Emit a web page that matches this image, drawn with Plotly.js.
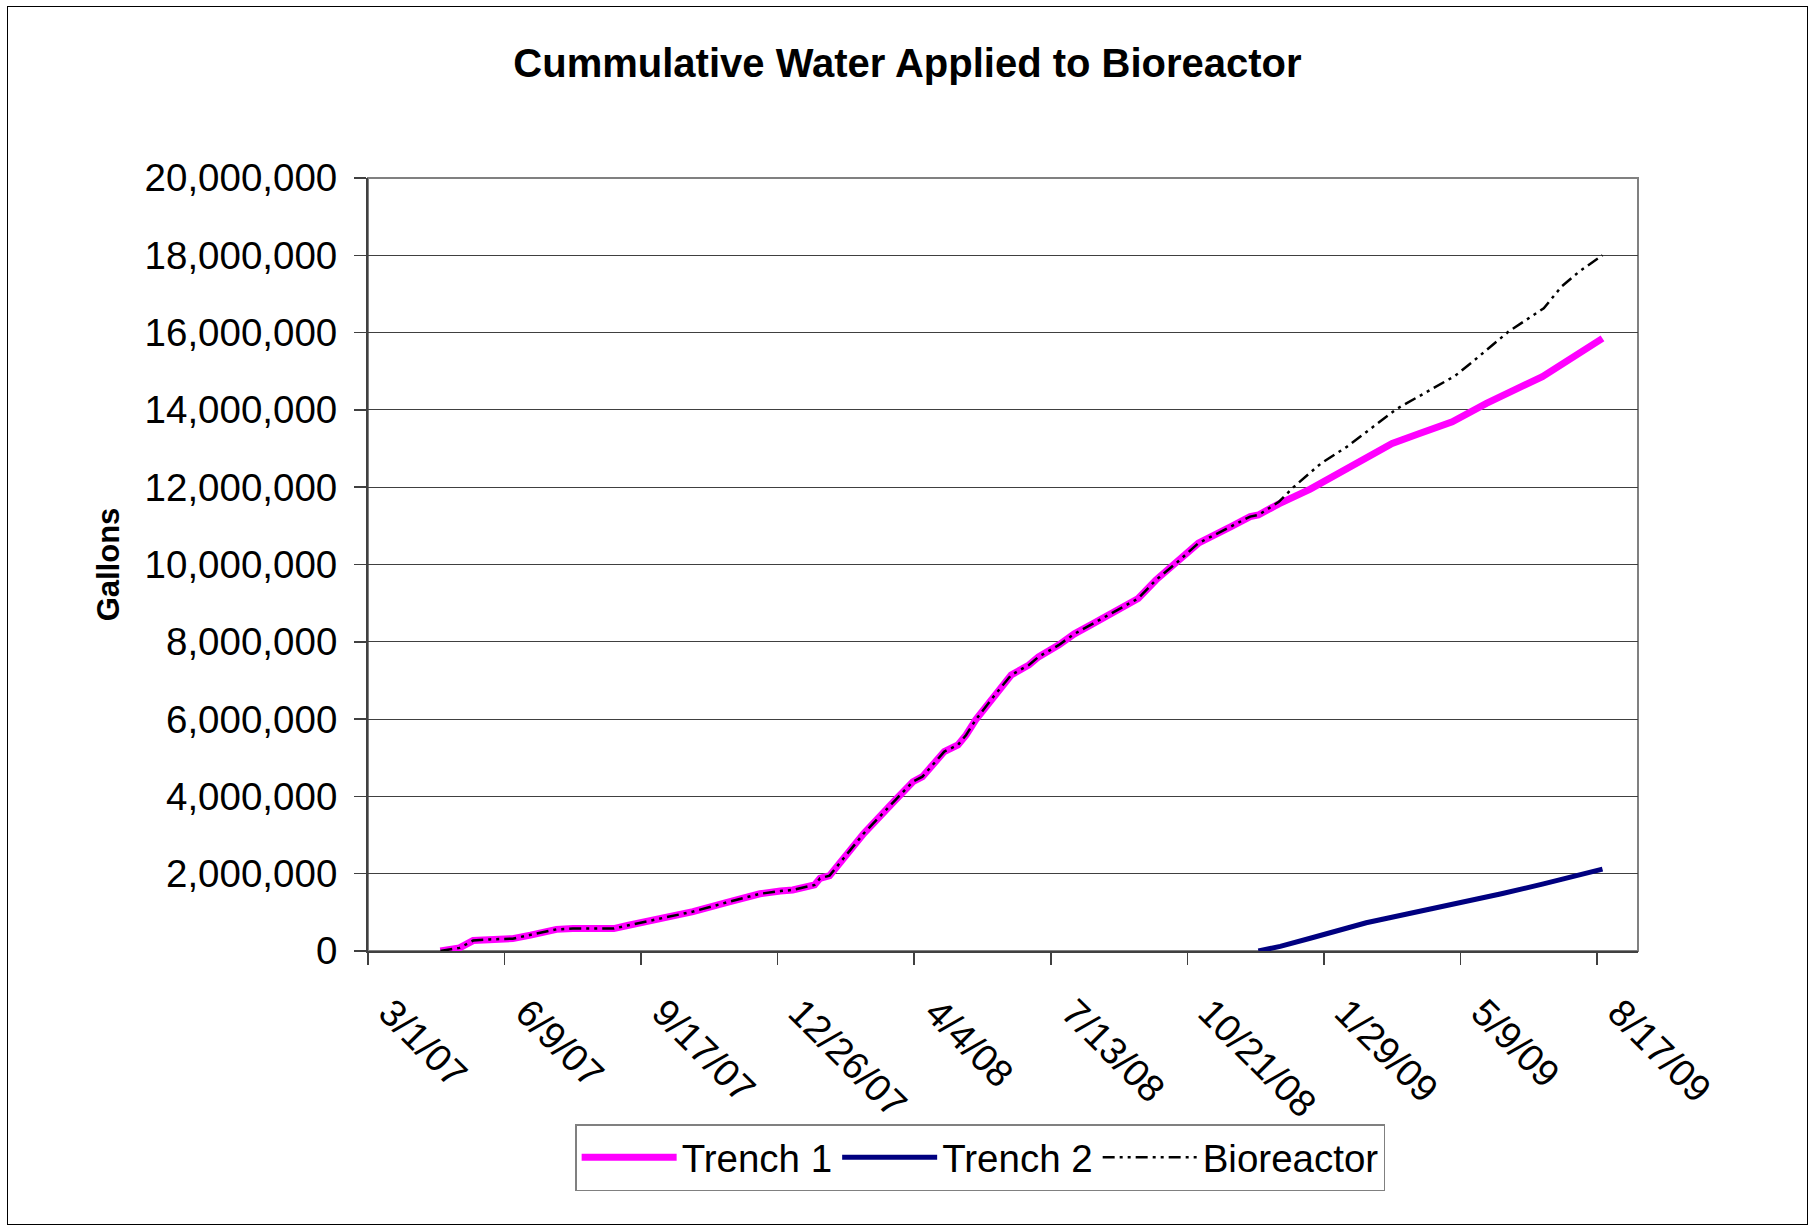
<!DOCTYPE html>
<html>
<head>
<meta charset="utf-8">
<script src="https://cdn.plot.ly/plotly-3.0.1.min.js"></script>
<style>
  html, body { margin: 0; padding: 0; background: #fff; }
  #wrap { position: relative; width: 1815px; height: 1227px; }
  #chart { width: 1815px; height: 1227px; }
  #frame { position: absolute; left: 7px; top: 6px; width: 1799px; height: 1217px;
           border: 1px solid #000; pointer-events: none; }
</style>
</head>
<body>
<div id="wrap">
  <div id="chart"></div>
  <div id="frame"></div>
</div>
<script>
// ---- Data ----
const trench1Dates = [
  "2007-04-23","2007-05-07","2007-05-17","2007-05-29","2007-06-15","2007-06-28",
  "2007-07-17","2007-07-29","2007-08-28","2007-09-07","2007-10-01","2007-10-25",
  "2007-11-19","2007-12-13","2007-12-28","2008-01-06","2008-01-22","2008-01-26",
  "2008-02-02","2008-02-11","2008-02-27","2008-03-21","2008-04-03","2008-04-10",
  "2008-04-26","2008-05-06","2008-05-12","2008-05-19","2008-06-01","2008-06-14",
  "2008-06-27","2008-07-04","2008-07-19","2008-07-30","2008-08-12","2008-08-26",
  "2008-09-07","2008-09-15","2008-09-28","2008-10-14","2008-10-29","2008-11-22",
  "2008-12-06","2008-12-12","2008-12-27","2009-01-19","2009-02-18","2009-03-20",
  "2009-04-09","2009-05-03","2009-05-28","2009-06-13","2009-07-08","2009-08-21"
];
const trench1Gallons = [
  0, 80000, 270000, 300000, 320000, 410000,
  560000, 580000, 580000, 660000, 840000, 1020000,
  1260000, 1480000, 1550000, 1580000, 1710000, 1880000,
  1950000, 2350000, 3040000, 3900000, 4380000, 4510000,
  5160000, 5330000, 5590000, 5980000, 6580000, 7140000,
  7400000, 7610000, 7920000, 8200000, 8450000, 8730000,
  8950000, 9120000, 9600000, 10070000, 10550000, 10980000,
  11240000, 11280000, 11570000, 11950000, 12540000, 13130000,
  13390000, 13690000, 14170000, 14450000, 14860000, 15850000
];

const trench2Dates = [
  "2008-12-12","2008-12-28","2009-01-19","2009-03-01","2009-03-30",
  "2009-05-06","2009-06-08","2009-07-08","2009-08-21"
];
const trench2Gallons = [
  0, 120000, 330000, 730000, 950000,
  1220000, 1480000, 1730000, 2120000
];

const bioreactorDates = [
  "2007-04-23","2007-05-07","2007-05-17","2007-05-29","2007-06-15","2007-06-28",
  "2007-07-17","2007-07-29","2007-08-28","2007-09-07","2007-10-01","2007-10-25",
  "2007-11-19","2007-12-13","2007-12-28","2008-01-06","2008-01-22","2008-01-26",
  "2008-02-02","2008-02-11","2008-02-27","2008-03-21","2008-04-03","2008-04-10",
  "2008-04-26","2008-05-06","2008-05-12","2008-05-19","2008-06-01","2008-06-14",
  "2008-06-27","2008-07-04","2008-07-19","2008-07-30","2008-08-12","2008-08-26",
  "2008-09-07","2008-09-15","2008-09-28","2008-10-14","2008-10-29","2008-11-22",
  "2008-12-06","2008-12-12","2008-12-27","2009-01-07","2009-01-27","2009-02-15",
  "2009-03-23","2009-05-05","2009-05-18","2009-06-13","2009-07-09","2009-07-22",
  "2009-08-04","2009-08-21"
];
const bioreactorGallons = [
  0, 80000, 270000, 300000, 320000, 410000,
  560000, 580000, 580000, 660000, 840000, 1020000,
  1260000, 1480000, 1550000, 1580000, 1710000, 1880000,
  1950000, 2350000, 3040000, 3900000, 4380000, 4510000,
  5160000, 5330000, 5590000, 5980000, 6580000, 7140000,
  7400000, 7610000, 7920000, 8200000, 8450000, 8730000,
  8950000, 9120000, 9600000, 10070000, 10550000, 10980000,
  11240000, 11280000, 11620000, 12010000, 12620000, 13050000,
  14020000, 14880000, 15250000, 16020000, 16630000, 17190000,
  17580000, 18000000
];

const seriesNames = ["Trench 1", "Trench 2", "Bioreactor"];
const chartTitle = "Cummulative Water Applied to Bioreactor";
const yTitle = "Gallons";
const xTickStart = "2007-03-01";
const xRangeEnd = "2009-09-16";

// ---- Plot ----
const FONT = "Liberation Sans, Arial, sans-serif";
const DAY = 86400000;

const traces = [
  { x: trench1Dates, y: trench1Gallons, name: seriesNames[0], type: "scatter", mode: "lines",
    line: { color: "#FF00FF", width: 7 } },
  { x: trench2Dates, y: trench2Gallons, name: seriesNames[1], type: "scatter", mode: "lines",
    line: { color: "#000080", width: 5 } },
  { x: bioreactorDates, y: bioreactorGallons, name: seriesNames[2], type: "scatter", mode: "lines",
    line: { color: "#000000", width: 2.5, dash: "12px,5px,3px,5px,3px,5px" } }
];

const layout = {
  width: 1815, height: 1227,
  paper_bgcolor: "#fff", plot_bgcolor: "#fff",
  margin: { l: 368, r: 177, t: 178, b: 276 },
  font: { family: FONT, color: "#000", size: 38 },
  showlegend: true,
  title: { text: "<b>" + chartTitle + "</b>", font: { family: FONT, size: 40, color: "#000" },
           xref: "container", yref: "container", x: 0.5, y: 1 - 63/1227,
           xanchor: "center", yanchor: "middle" },
  xaxis: {
    type: "date",
    range: [xTickStart, xRangeEnd],
    tick0: xTickStart, dtick: 100 * DAY,
    tickformat: "%-m/%-d/%y",
    tickangle: 45,
    ticks: "outside", ticklen: 12, tickwidth: 1.5, tickcolor: "#404040",
    ticklabelshift: 22, ticklabelstandoff: 10,
    showgrid: false, zeroline: false,
    showline: true, linecolor: "#404040", linewidth: 2,
    tickfont: { family: FONT, size: 38, color: "#000" },
    fixedrange: true
  },
  yaxis: {
    range: [0, 20000000], dtick: 2000000, tick0: 0,
    tickformat: ",d",
    ticks: "outside", ticklen: 12, tickwidth: 1.5, tickcolor: "#404040",
    ticklabelstandoff: 9,
    showgrid: true, gridcolor: "#404040", gridwidth: 1,
    zeroline: false,
    showline: true, linecolor: "#404040", linewidth: 2,
    tickfont: { family: FONT, size: 38.5, color: "#000" },
    title: { text: "<b>" + yTitle + "</b>", font: { family: FONT, size: 31, color: "#000" }, standoff: 16 },
    fixedrange: true
  },
  legend: {
    orientation: "h",
    x: 0.482, xanchor: "center",
    y: -0.224, yanchor: "top",
    bordercolor: "#808080", borderwidth: 1.5, bgcolor: "#fff",
    font: { family: FONT, size: 38.5, color: "#000" },
    itemwidth: 95, tracegroupgap: 0
  },
  shapes: [
    { type: "rect", xref: "paper", yref: "paper", x0: 0, x1: 1, y0: 0, y1: 1,
      line: { color: "#808080", width: 2 }, fillcolor: "rgba(0,0,0,0)", layer: "below" }
  ]
};

Plotly.newPlot("chart", traces, layout, { displayModeBar: false, staticPlot: true });
</script>
</body>
</html>
